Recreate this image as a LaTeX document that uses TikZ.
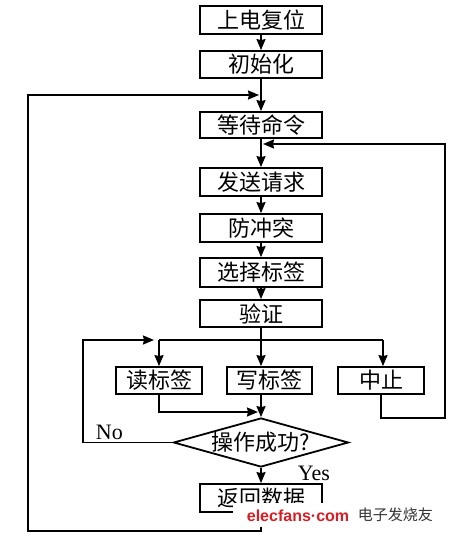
\documentclass[tikz,border=0pt]{standalone}
\usepackage{fontspec}
\setmainfont{Liberation Serif}
\newfontfamily\cjk{Noto Sans CJK SC}
\newfontfamily\wmsans{Liberation Sans}
\usetikzlibrary{arrows.meta,shapes.geometric}
\definecolor{wmred}{RGB}{214,30,36}
\begin{document}
\begin{tikzpicture}[x=1pt,y=-1pt,
  line width=1.8pt,
  box/.style={draw,line width=1.8pt,minimum width=122pt,minimum height=28pt,inner sep=0pt,
    font=\cjk\fontsize{22}{22}\selectfont},
  sbox/.style={box,minimum width=86pt,minimum height=27pt},
  dia/.style={draw,diamond,line width=1.8pt,minimum width=175pt,minimum height=49pt,
    aspect=3.57,inner sep=0pt,font=\cjk\fontsize{22}{22}\selectfont},
  arr/.style={-{Stealth[length=11pt,width=9pt,inset=1pt]}},
  lbl/.style={inner sep=0pt,font=\fontsize{22}{22}\selectfont},
]
\useasboundingbox (0,0) rectangle (450,535);
\fill[white] (0,0) rectangle (450,535);

\node[box] (n1) at (261,20) {上电复位};
\node[box,minimum height=27pt] (n2) at (261,64.5) {初始化};
\node[box,minimum height=26pt] (n3) at (261,125) {等待命令};
\node[box] (n4) at (261,182) {发送请求};
\node[box] (n5) at (261,228) {防冲突};
\node[box,minimum height=29pt] (n6) at (261,272.5) {选择标签};
\node[box,minimum height=27pt] (n7) at (261,313.5) {验证};
\node[sbox] (r) at (159,380.5) {读标签};
\node[sbox,minimum width=85pt] (w) at (269.5,380.5) {写标签};
\node[sbox] (s) at (381,380.5) {中止};
\node[dia] (d) at (261,442.5) {操作成功?};
\node[box] (ret) at (261,498) {返回数据};

\node[lbl,anchor=base west] (no) at (95,439) {No};
\node[lbl,anchor=base west] (yes) at (297,480) {Yes};

\coordinate (bl) at (159,340);
\coordinate (bm) at (261,340);
\coordinate (br) at (383,340);
\coordinate (jr) at (258,412);
\coordinate (nl) at (83,340);
\coordinate (nlt) at (154,340);
\coordinate (rc1) at (445,418);
\coordinate (rc2) at (445,144);
\coordinate (rt) at (263,144);
\coordinate (lc1) at (28,531);
\coordinate (lc2) at (28,95);
\coordinate (lt) at (259,95);

\draw[arr] (n1) -- (n2);
\draw[arr] (n2) -- (n3);
\draw[arr] (n3) -- (n4);
\draw[arr] (n4) -- (n5);
\draw[arr] (n5) -- (n6);
\draw[arr] (n6) -- (n7);
\draw (n7.south) -- (bm);
\draw (bl) -- (br);
\draw[arr] (bl) -- (r.north);
\draw[arr] (bm) -- (bm |- w.north);
\draw[arr] (br) -- (br |- s.north);
\draw[arr] (r.south) |- (jr);
\draw[arr] (bm |- w.south) -- (d.north);
\draw[arr] (d.west) -| (nl) -- (nlt);
\draw[arr] (d.south) -- (ret.north);
\draw[arr] (s.south) |- (rc1) -- (rc2) -- (rt);
\draw[arr] (ret.south) |- (lc1) -- (lc2) -- (lt);

% watermark
\fill[white] (233,503) rectangle (330,527);
\node[anchor=base west,inner sep=0pt,text=wmred,
  font=\wmsans\bfseries\fontsize{16}{16}\selectfont] (wm) at (246,521) {elecfans·com};
\node[anchor=west,inner sep=0pt,text=black!80,
  font=\cjk\fontsize{15}{15}\selectfont] (wm2) at (357,515) {电子发烧友};
\end{tikzpicture}
\end{document}
